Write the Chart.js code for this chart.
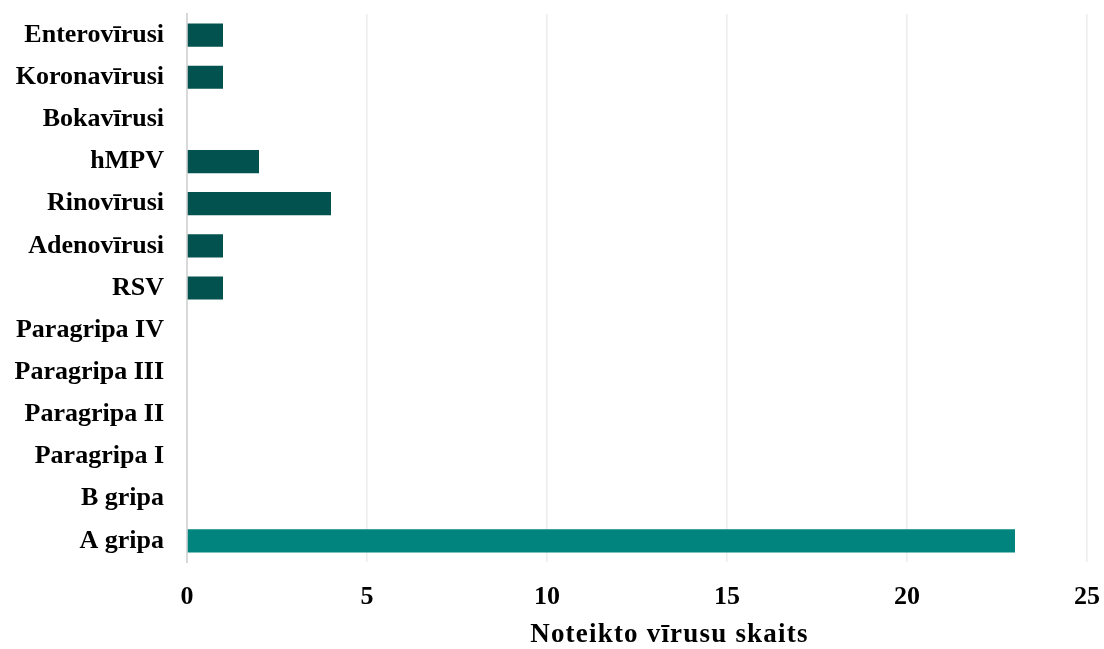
<!DOCTYPE html>
<html>
<head>
<meta charset="utf-8">
<script src="https://cdn.jsdelivr.net/npm/chart.js@4/dist/chart.umd.min.js"></script>
<style>
  html, body { margin: 0; padding: 0; background: #ffffff; }
  #wrap { width: 1104px; height: 649px; position: relative; }
</style>
</head>
<body>
<div id="wrap"><canvas id="c" width="1104" height="649"></canvas></div>
<script>
const categories = ["Enterovīrusi", "Koronavīrusi", "Bokavīrusi", "hMPV", "Rinovīrusi", "Adenovīrusi", "RSV", "Paragripa IV", "Paragripa III", "Paragripa II", "Paragripa I", "B gripa", "A gripa"];
const values = [1, 1, 0, 2, 4, 1, 1, 0, 0, 0, 0, 0, 23];
const barColors = ["#02524f", "#02524f", "#02524f", "#02524f", "#02524f", "#02524f", "#02524f", "#02524f", "#02524f", "#02524f", "#02524f", "#02524f", "#01847e"];
const xTicks = [0, 5, 10, 15, 20, 25];
const xTitle = "Noteikto vīrusu skaits";

const FONT = '"Liberation Serif", "Times New Roman", serif';

const axisTitlePlugin = {
  id: 'axisTitle',
  afterDraw(chart) {
    const ctx = chart.ctx;
    const xs = chart.scales.x;
    ctx.save();
    ctx.font = 'bold 27px ' + FONT;
    if ('letterSpacing' in ctx) ctx.letterSpacing = '1.2px';
    ctx.fillStyle = '#000000';
    ctx.textAlign = 'center';
    ctx.textBaseline = 'middle';
    ctx.fillText(xTitle, xs.getPixelForValue(13.4), 635);
    ctx.restore();
  }
};

new Chart(document.getElementById('c'), {
  type: 'bar',
  data: {
    labels: categories,
    datasets: [{
      data: values,
      backgroundColor: barColors,
      borderWidth: 0,
      barPercentage: 0.55,
      categoryPercentage: 1.0
    }]
  },
  plugins: [axisTitlePlugin],
  options: {
    indexAxis: 'y',
    responsive: false,
    animation: false,
    layout: { padding: { top: 14, right: 17, bottom: 0, left: 0 } },
    plugins: { legend: { display: false }, tooltip: { enabled: false } },
    scales: {
      x: {
        min: 0,
        max: 25,
        afterBuildTicks: (s) => { s.ticks = xTicks.map(v => ({ value: v })); },
        afterFit: (s) => { s.height = 87; s.paddingLeft = 0; s.paddingRight = 0; },
        grid: { color: '#ececec', lineWidth: 1.5, drawTicks: false },
        border: { display: false },
        ticks: {
          padding: 20,
          color: '#000000',
          font: { family: FONT, size: 26, weight: 'bold' }
        },
        title: { display: false }
      },
      y: {
        afterFit: (s) => { s.width = 187; s.paddingTop = 0; s.paddingBottom = 0; },
        grid: { display: false, drawTicks: false },
        border: { display: true, color: '#d9d9d9', width: 2 },
        ticks: {
          padding: 23,
          color: '#000000',
          font: { family: FONT, size: 26, weight: 'bold' }
        }
      }
    }
  }
});
</script>
</body>
</html>
